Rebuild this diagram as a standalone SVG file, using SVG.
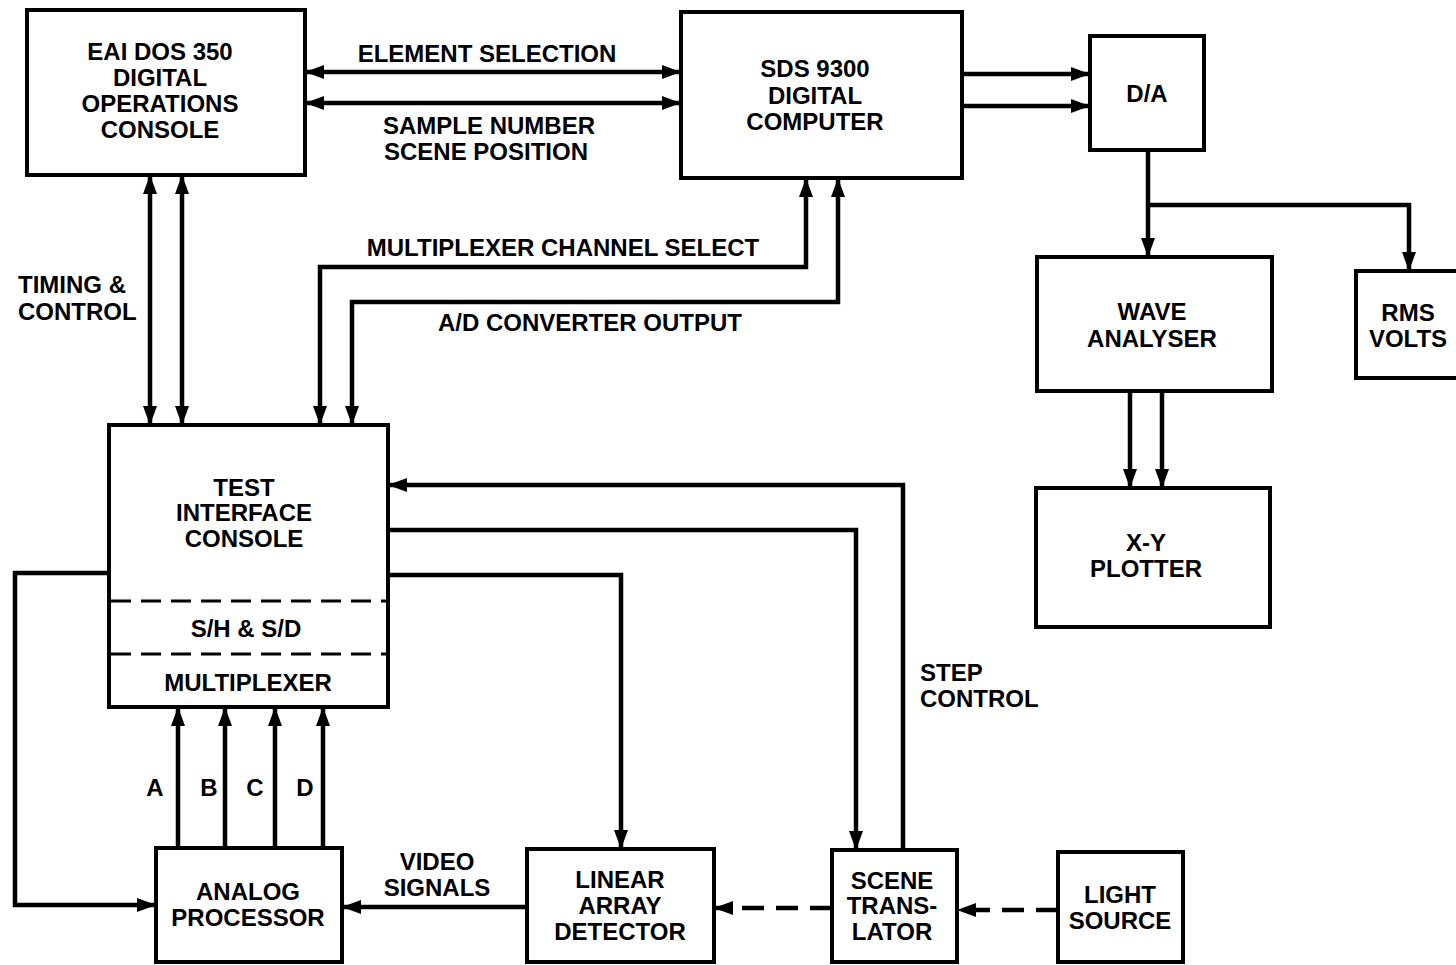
<svg xmlns="http://www.w3.org/2000/svg" width="1456" height="965" viewBox="0 0 1456 965">
<defs>
<marker id="ah" markerUnits="userSpaceOnUse" markerWidth="20" markerHeight="14" refX="19" refY="7" orient="auto-start-reverse"><path d="M0,0 L19,7 L0,14 z" fill="#000"/></marker>
<style>
.box{fill:#fff;stroke:#000;stroke-width:4}
.ln{fill:none;stroke:#000;stroke-width:4.5}
.dsh{fill:none;stroke:#000;stroke-width:4.5;stroke-dasharray:22 12}
.dv{fill:none;stroke:#000;stroke-width:3;stroke-dasharray:20 10}
text{font-family:"Liberation Sans",Arial,sans-serif;font-weight:bold;font-size:24px;fill:#000}
.c{text-anchor:middle}
</style>
</defs>
<rect width="1456" height="965" fill="#fff"/>
<g id="connectors">
<line class="ln" x1="305" y1="72" x2="681" y2="72" marker-start="url(#ah)" marker-end="url(#ah)"/>
<line class="ln" x1="305" y1="103" x2="681" y2="103" marker-start="url(#ah)" marker-end="url(#ah)"/>
<line class="ln" x1="962" y1="74" x2="1090" y2="74" marker-end="url(#ah)"/>
<line class="ln" x1="962" y1="106" x2="1090" y2="106" marker-end="url(#ah)"/>
<polyline class="ln" points="1148,150 1148,257" marker-end="url(#ah)"/>
<polyline class="ln" points="1148,205 1409,205 1409,271" marker-end="url(#ah)"/>
<line class="ln" x1="1130" y1="391" x2="1130" y2="488" marker-end="url(#ah)"/>
<line class="ln" x1="1162" y1="391" x2="1162" y2="488" marker-end="url(#ah)"/>
<line class="ln" x1="150" y1="175" x2="150" y2="425" marker-start="url(#ah)" marker-end="url(#ah)"/>
<line class="ln" x1="182" y1="175" x2="182" y2="425" marker-start="url(#ah)" marker-end="url(#ah)"/>
<polyline class="ln" points="320,425 320,267 806,267 806,178" marker-start="url(#ah)" marker-end="url(#ah)"/>
<polyline class="ln" points="352,425 352,302 838,302 838,178" marker-start="url(#ah)" marker-end="url(#ah)"/>
<polyline class="ln" points="903,850 903,485 388,485" marker-end="url(#ah)"/>
<polyline class="ln" points="388,530 856,530 856,850" marker-end="url(#ah)"/>
<polyline class="ln" points="388,575 621,575 621,849" marker-end="url(#ah)"/>
<polyline class="ln" points="109,573 15,573 15,905 156,905" marker-end="url(#ah)"/>
<line class="ln" x1="178" y1="848" x2="178" y2="707" marker-end="url(#ah)"/>
<line class="ln" x1="225" y1="848" x2="225" y2="707" marker-end="url(#ah)"/>
<line class="ln" x1="275" y1="848" x2="275" y2="707" marker-end="url(#ah)"/>
<line class="ln" x1="323" y1="848" x2="323" y2="707" marker-end="url(#ah)"/>
<line class="ln" x1="527" y1="907" x2="342" y2="907" marker-end="url(#ah)"/>
<line class="dsh" x1="832" y1="908" x2="714" y2="908" marker-end="url(#ah)"/>
<line class="dsh" x1="1058" y1="910" x2="957" y2="910" marker-end="url(#ah)"/>
</g>
<g id="labels">
<text class="c" x="487" y="62">ELEMENT SELECTION</text>
<text class="c" x="489" y="134">SAMPLE NUMBER</text>
<text class="c" x="486" y="160">SCENE POSITION</text>
<text class="c" x="563" y="256">MULTIPLEXER CHANNEL SELECT</text>
<text class="c" x="590" y="331">A/D CONVERTER OUTPUT</text>
<text x="18" y="293">TIMING &amp;</text>
<text x="18" y="320">CONTROL</text>
<text x="920" y="681">STEP</text>
<text x="920" y="707">CONTROL</text>
<text class="c" x="155" y="796">A</text>
<text class="c" x="209" y="796">B</text>
<text class="c" x="255" y="796">C</text>
<text class="c" x="305" y="796">D</text>
<text class="c" x="437" y="870">VIDEO</text>
<text class="c" x="437" y="896">SIGNALS</text>
</g>
<g id="eai"><rect class="box" x="27" y="10" width="278" height="165"/>
<text class="c" x="160" y="60">EAI DOS 350</text><text class="c" x="160" y="86">DIGITAL</text><text class="c" x="160" y="112">OPERATIONS</text><text class="c" x="160" y="138">CONSOLE</text></g>
<g id="sds"><rect class="box" x="681" y="12" width="281" height="166"/>
<text class="c" x="815" y="77">SDS 9300</text><text class="c" x="815" y="104">DIGITAL</text><text class="c" x="815" y="130">COMPUTER</text></g>
<g id="da"><rect class="box" x="1090" y="36" width="114" height="114"/>
<text class="c" x="1147" y="102">D/A</text></g>
<g id="wave"><rect class="box" x="1037" y="257" width="235" height="134"/>
<text class="c" x="1152" y="320">WAVE</text><text class="c" x="1152" y="347">ANALYSER</text></g>
<g id="rms"><rect class="box" x="1356" y="271" width="110" height="107"/>
<text class="c" x="1408" y="321">RMS</text><text class="c" x="1408" y="347">VOLTS</text></g>
<g id="xy"><rect class="box" x="1036" y="488" width="234" height="139"/>
<text class="c" x="1146" y="551">X-Y</text><text class="c" x="1146" y="577">PLOTTER</text></g>
<g id="tic"><rect class="box" x="109" y="425" width="279" height="282"/>
<line class="dv" x1="111" y1="601" x2="386" y2="601"/>
<line class="dv" x1="111" y1="654" x2="386" y2="654"/>
<text class="c" x="244" y="496">TEST</text><text class="c" x="244" y="521">INTERFACE</text><text class="c" x="244" y="547">CONSOLE</text>
<text class="c" x="246" y="637">S/H &amp; S/D</text><text class="c" x="248" y="691">MULTIPLEXER</text></g>
<g id="analog"><rect class="box" x="156" y="848" width="186" height="114"/>
<text class="c" x="248" y="900">ANALOG</text><text class="c" x="248" y="926">PROCESSOR</text></g>
<g id="linear"><rect class="box" x="527" y="849" width="187" height="113"/>
<text class="c" x="620" y="888">LINEAR</text><text class="c" x="620" y="914">ARRAY</text><text class="c" x="620" y="940">DETECTOR</text></g>
<g id="scene"><rect class="box" x="832" y="850" width="125" height="112"/>
<text class="c" x="892" y="889">SCENE</text><text class="c" x="892" y="914">TRANS-</text><text class="c" x="892" y="940">LATOR</text></g>
<g id="light"><rect class="box" x="1058" y="852" width="125" height="110"/>
<text class="c" x="1120" y="903">LIGHT</text><text class="c" x="1120" y="929">SOURCE</text></g>
</svg>
